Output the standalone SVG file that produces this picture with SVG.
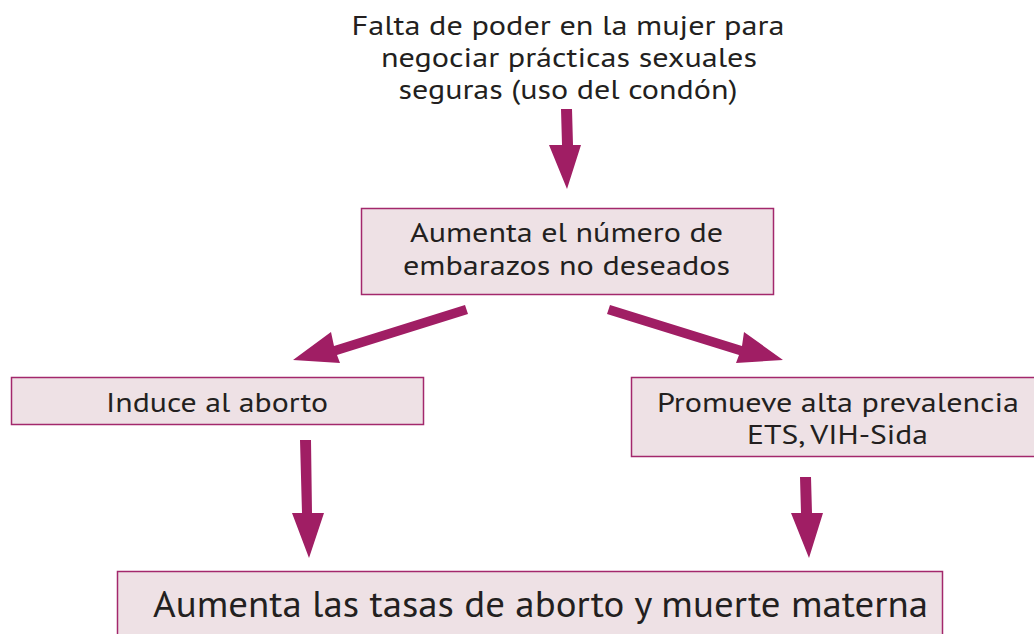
<svg xmlns="http://www.w3.org/2000/svg" width="1034" height="634" viewBox="0 0 1034 634">
<style>
.box{fill:#eee1e5;stroke:#a3286c;stroke-width:1.5}
.t{font-family:"PT Sans","Noto Sans","Liberation Sans",sans-serif;fill:#231f20;text-anchor:middle}
.m{font-size:28px}
.b{font-size:37px}
.arr{fill:#a01e64}
</style>
<rect width="1034" height="634" fill="#ffffff"/>
<g id="n-top">
<text class="t m" x="568" y="35" textLength="433" lengthAdjust="spacingAndGlyphs">Falta de poder en la mujer para</text>
<text class="t m" x="569" y="67" textLength="376" lengthAdjust="spacingAndGlyphs">negociar prácticas sexuales</text>
<text class="t m" x="568" y="99" textLength="339" lengthAdjust="spacingAndGlyphs">seguras (uso del condón)</text>
</g>
<g id="n-embarazos">
<rect class="box" x="361.5" y="208.5" width="412" height="86"/>
<text class="t m" x="566.5" y="242" textLength="313" lengthAdjust="spacingAndGlyphs">Aumenta el número de</text>
<text class="t m" x="566.5" y="275" textLength="327" lengthAdjust="spacingAndGlyphs">embarazos no deseados</text>
</g>
<g id="n-induce">
<rect class="box" x="11.5" y="377.5" width="412" height="47"/>
<text class="t m" x="217" y="412" textLength="222" lengthAdjust="spacingAndGlyphs">Induce al aborto</text>
</g>
<g id="n-promueve">
<rect class="box" x="631.5" y="377.5" width="408" height="79"/>
<text class="t m" x="838" y="412" textLength="362" lengthAdjust="spacingAndGlyphs">Promueve alta prevalencia</text>
<text class="t m" x="837.5" y="444" textLength="181" lengthAdjust="spacingAndGlyphs">ETS, VIH-Sida</text>
</g>
<g id="n-bottom">
<rect class="box" x="117.5" y="571.5" width="825" height="70"/>
<text class="t b" x="540.5" y="617" textLength="775" lengthAdjust="spacingAndGlyphs">Aumenta las tasas de aborto y muerte materna</text>
</g>
<g id="connectors">
<polygon class="arr" points="561,109 572,109 573,145 581,145 567,189 549,145 562,145"/>
<polygon class="arr" points="465,305 468,314 337,355 340,363 293,360 331,332 334,346"/>
<polygon class="arr" points="610,305 607,314 739,355 736,363 783,360 744,332 742,346"/>
<polygon class="arr" points="300,440 311,440 312,513 324,513 309,558 292,513 302,513"/>
<polygon class="arr" points="800,477 811,477 812,513 823,513 809,558 791,513 801,513"/>
</g>
</svg>
